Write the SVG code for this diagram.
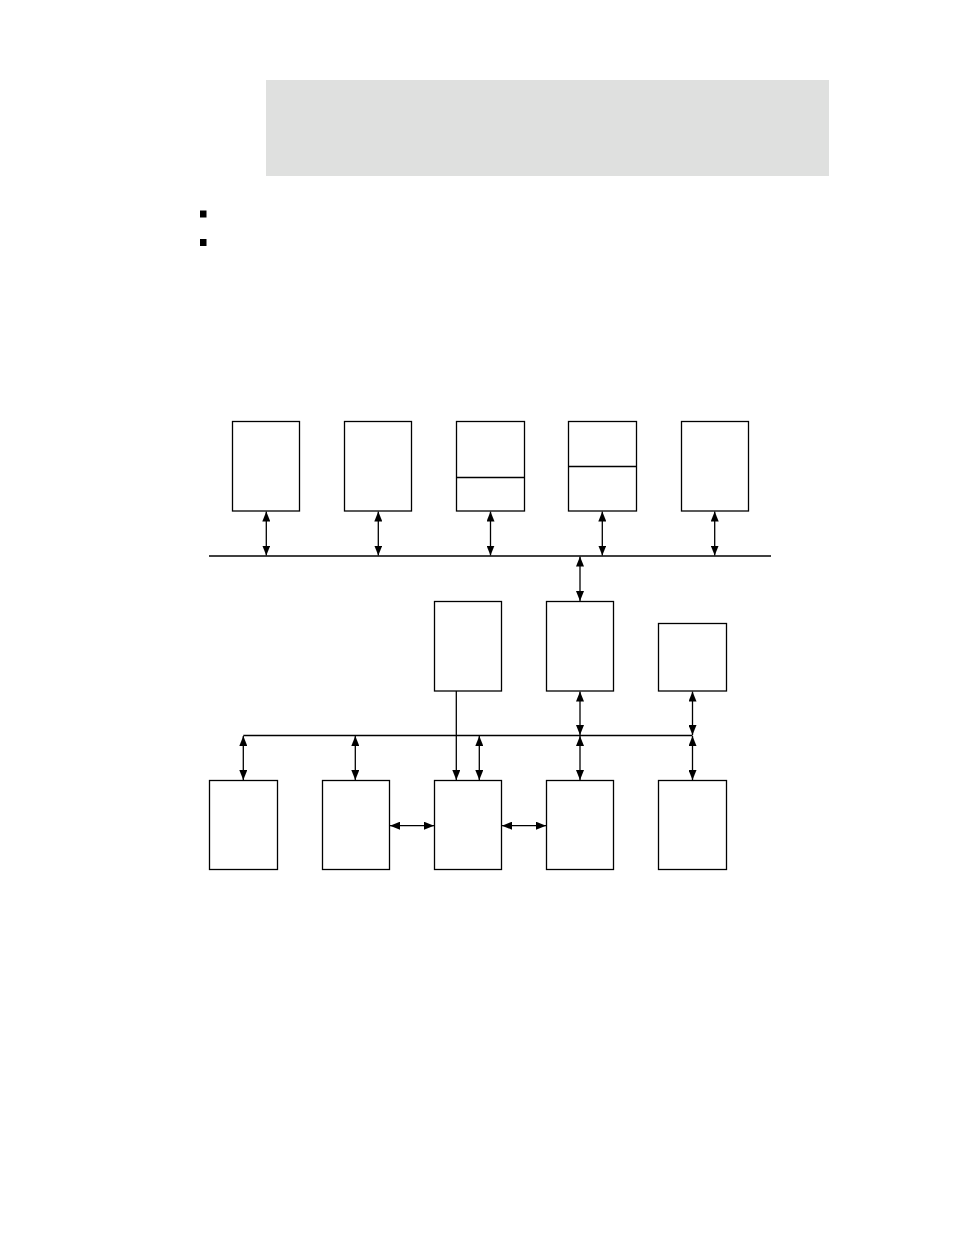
<svg xmlns="http://www.w3.org/2000/svg" width="954" height="1235" viewBox="0 0 954 1235">
<defs>
<style>
.box{fill:#fff;stroke:#000;stroke-width:1.3}
.ln{fill:none;stroke:#000;stroke-width:1.3}
.bi{fill:none;stroke:#000;stroke-width:1.3;marker-start:url(#ah);marker-end:url(#ah)}
.one{fill:none;stroke:#000;stroke-width:1.3;marker-end:url(#ah)}
</style>
<marker id="ah" viewBox="0 0 10 8" refX="10" refY="4" markerWidth="10" markerHeight="8" markerUnits="userSpaceOnUse" orient="auto-start-reverse">
<path d="M0,0 L10,4 L0,8 Z" fill="#000"/>
</marker>
</defs>
<rect x="266" y="80" width="563" height="96" fill="#dfe0df"/>
<rect x="200" y="210.5" width="6.5" height="7" fill="#000"/>
<rect x="200" y="239" width="6.5" height="7" fill="#000"/>
<g id="connectors">
<line class="ln" x1="209" y1="556" x2="771" y2="556"/>
<line class="bi" x1="266.3" y1="511.5" x2="266.3" y2="555.5"/>
<line class="bi" x1="378.3" y1="511.5" x2="378.3" y2="555.5"/>
<line class="bi" x1="490.5" y1="511.5" x2="490.5" y2="555.5"/>
<line class="bi" x1="602.3" y1="511.5" x2="602.3" y2="555.5"/>
<line class="bi" x1="714.7" y1="511.5" x2="714.7" y2="555.5"/>
<line class="bi" x1="580" y1="556.5" x2="580" y2="601"/>
<line class="ln" x1="243.3" y1="735.5" x2="692.5" y2="735.5"/>
<line class="one" x1="456.3" y1="691" x2="456.3" y2="780"/>
<line class="bi" x1="479.3" y1="736" x2="479.3" y2="780"/>
<line class="bi" x1="580" y1="691.5" x2="580" y2="735"/>
<line class="bi" x1="580" y1="736" x2="580" y2="780"/>
<line class="bi" x1="692.5" y1="691.5" x2="692.5" y2="735"/>
<line class="bi" x1="692.5" y1="736" x2="692.5" y2="780"/>
<line class="bi" x1="243.3" y1="736" x2="243.3" y2="780"/>
<line class="bi" x1="355.3" y1="736" x2="355.3" y2="780"/>
<line class="bi" x1="390" y1="825.7" x2="434" y2="825.7"/>
<line class="bi" x1="502" y1="825.7" x2="546" y2="825.7"/>
</g>
<g id="top1"><rect class="box" x="232.5" y="421.5" width="67" height="89.5"/></g>
<g id="top2"><rect class="box" x="344.5" y="421.5" width="67" height="89.5"/></g>
<g id="top3"><rect class="box" x="456.5" y="421.5" width="68" height="89.5"/><line class="ln" x1="456.5" y1="477.5" x2="524.5" y2="477.5"/></g>
<g id="top4"><rect class="box" x="568.5" y="421.5" width="68" height="89.5"/><line class="ln" x1="568.5" y1="466.5" x2="636.5" y2="466.5"/></g>
<g id="top5"><rect class="box" x="681.5" y="421.5" width="67" height="89.5"/></g>
<g id="mid1"><rect class="box" x="434.5" y="601.5" width="67" height="89.5"/></g>
<g id="mid2"><rect class="box" x="546.5" y="601.5" width="67" height="89.5"/></g>
<g id="mid3"><rect class="box" x="658.5" y="623.5" width="68" height="67.5"/></g>
<g id="bot1"><rect class="box" x="209.5" y="780.5" width="68" height="89"/></g>
<g id="bot2"><rect class="box" x="322.5" y="780.5" width="67" height="89"/></g>
<g id="bot3"><rect class="box" x="434.5" y="780.5" width="67" height="89"/></g>
<g id="bot4"><rect class="box" x="546.5" y="780.5" width="67" height="89"/></g>
<g id="bot5"><rect class="box" x="658.5" y="780.5" width="68" height="89"/></g>
</svg>
